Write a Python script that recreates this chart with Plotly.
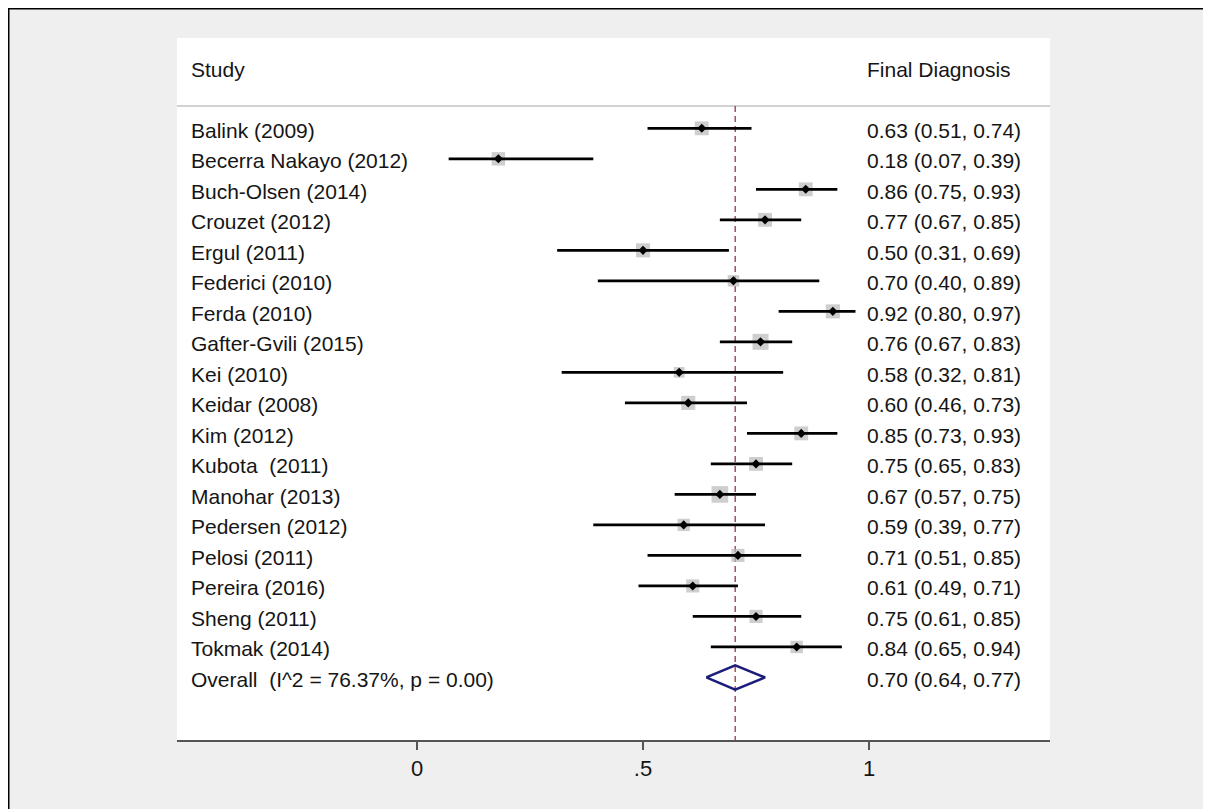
import plotly.graph_objects as go

studies = ["Balink (2009)", "Becerra Nakayo (2012)", "Buch-Olsen (2014)", "Crouzet (2012)",
           "Ergul (2011)", "Federici (2010)", "Ferda (2010)", "Gafter-Gvili (2015)",
           "Kei (2010)", "Keidar (2008)", "Kim (2012)", "Kubota  (2011)", "Manohar (2013)",
           "Pedersen (2012)", "Pelosi (2011)", "Pereira (2016)", "Sheng (2011)", "Tokmak (2014)"]
es = [0.63, 0.18, 0.86, 0.77, 0.50, 0.70, 0.92, 0.76, 0.58, 0.60, 0.85, 0.75, 0.67, 0.59, 0.71, 0.61, 0.75, 0.84]
lo = [0.51, 0.07, 0.75, 0.67, 0.31, 0.40, 0.80, 0.67, 0.32, 0.46, 0.73, 0.65, 0.57, 0.39, 0.51, 0.49, 0.61, 0.65]
hi = [0.74, 0.39, 0.93, 0.85, 0.69, 0.89, 0.97, 0.83, 0.81, 0.73, 0.93, 0.83, 0.75, 0.77, 0.85, 0.71, 0.85, 0.94]
weights = [5.7, 5.3, 5.7, 5.7, 5.9, 3.9, 5.9, 7.6, 3.4, 5.9, 5.7, 5.7, 8.2, 4.5, 5.1, 5.1, 5.1, 4.6]
overall_label = "Overall  (I^2 = 76.37%, p = 0.00)"
overall_es, overall_lo, overall_hi = 0.704, 0.64, 0.77
header_left = "Study"
header_right = "Final Diagnosis"
tick_vals = [0, 0.5, 1]
tick_text = ["0", ".5", "1"]

n = len(studies)
rows = list(range(n))
overall_row = n
FONT = "Liberation Sans, Arial, sans-serif"
TXT = "#151515"
x_left_text = -0.504
x_right_text = 0.992
y_sep = -0.73
y_head = -2.0
y_bottom = 20.05

fig = go.Figure()

# reference (overall) dashed line
fig.add_trace(go.Scatter(x=[overall_es, overall_es], y=[y_sep, y_bottom], mode="lines",
                         line=dict(color="#a4525e", width=1.5, dash="6px,4px"),
                         hoverinfo="skip", showlegend=False))

# weight squares
fig.add_trace(go.Scatter(x=es, y=rows, mode="markers",
                         marker=dict(symbol="square", color="#b9b9b9",
                                     size=[5.8 * w ** 0.5 for w in weights], line=dict(width=0)),
                         showlegend=False))

# CI lines
cx, cy = [], []
for i in range(n):
    cx += [lo[i], hi[i], None]
    cy += [i, i, None]
fig.add_trace(go.Scatter(x=cx, y=cy, mode="lines", line=dict(color="black", width=2.8),
                         showlegend=False, hoverinfo="skip"))

# point estimates
fig.add_trace(go.Scatter(x=es, y=rows, mode="markers",
                         marker=dict(symbol="diamond", color="black", size=7, line=dict(width=0)),
                         showlegend=False))

# overall diamond
h = 0.4
fig.add_trace(go.Scatter(x=[overall_lo, overall_es, overall_hi, overall_es, overall_lo],
                         y=[overall_row, overall_row - h, overall_row, overall_row + h, overall_row],
                         mode="lines", line=dict(color="#1c1c7a", width=2.5),
                         showlegend=False, hoverinfo="skip"))

annotations = []
def txt(x, y, s):
    annotations.append(dict(x=x, y=y, xref="x", yref="y", text=s, showarrow=False,
                            xanchor="left", yanchor="middle", yshift=-2,
                            font=dict(family=FONT, size=21, color=TXT)))

txt(x_left_text, y_head, header_left)
txt(x_right_text, y_head, header_right)
for i in range(n):
    txt(x_left_text, i, studies[i])
    txt(x_right_text, i, f"{es[i]:.2f} ({lo[i]:.2f}, {hi[i]:.2f})")
txt(x_left_text, overall_row, overall_label)
txt(x_right_text, overall_row, f"{overall_es:.2f} ({overall_lo:.2f}, {overall_hi:.2f})")

# page body has an 8px margin: figure occupies screen 8..1211, 8..809
W, H = 1203, 801
ml, mr, mt, mb = 169, 161, 30, 69
pw, ph = W - ml - mr, H - mt - mb
px_x = lambda p: (p - ml) / pw
px_y = lambda p: (H - mb - p) / ph

shapes = [
    dict(type="line", xref="paper", yref="y", x0=0, x1=1, y0=y_sep, y1=y_sep,
         line=dict(color="#d2d2d2", width=2), layer="below"),
    dict(type="line", xref="paper", yref="paper", x0=px_x(0), x1=px_x(W + 5),
         y0=px_y(0.5), y1=px_y(0.5), line=dict(color="black", width=2)),
    dict(type="line", xref="paper", yref="paper", x0=px_x(0.5), x1=px_x(0.5),
         y0=px_y(0), y1=px_y(H + 5), line=dict(color="black", width=2)),
]

fig.update_layout(
    width=W, height=H,
    margin=dict(l=ml, r=mr, t=mt, b=mb),
    paper_bgcolor="#efefef", plot_bgcolor="white",
    showlegend=False,
    annotations=annotations, shapes=shapes,
    xaxis=dict(range=[-0.531, 1.4004], tickvals=tick_vals, ticktext=tick_text,
               showgrid=False, zeroline=False, showline=True, linecolor="#555555", linewidth=2,
               ticks="outside", ticklen=8, tickwidth=2, tickcolor="#555555",
               tickfont=dict(family=FONT, size=22, color=TXT), fixedrange=True),
    yaxis=dict(range=[y_bottom, -2.96], showgrid=False, zeroline=False, showline=False,
               showticklabels=False, ticks="", fixedrange=True),
)

fig.write_html("out.html",
               post_script="document.documentElement.style.overflow='hidden';document.body.style.overflow='hidden';")
